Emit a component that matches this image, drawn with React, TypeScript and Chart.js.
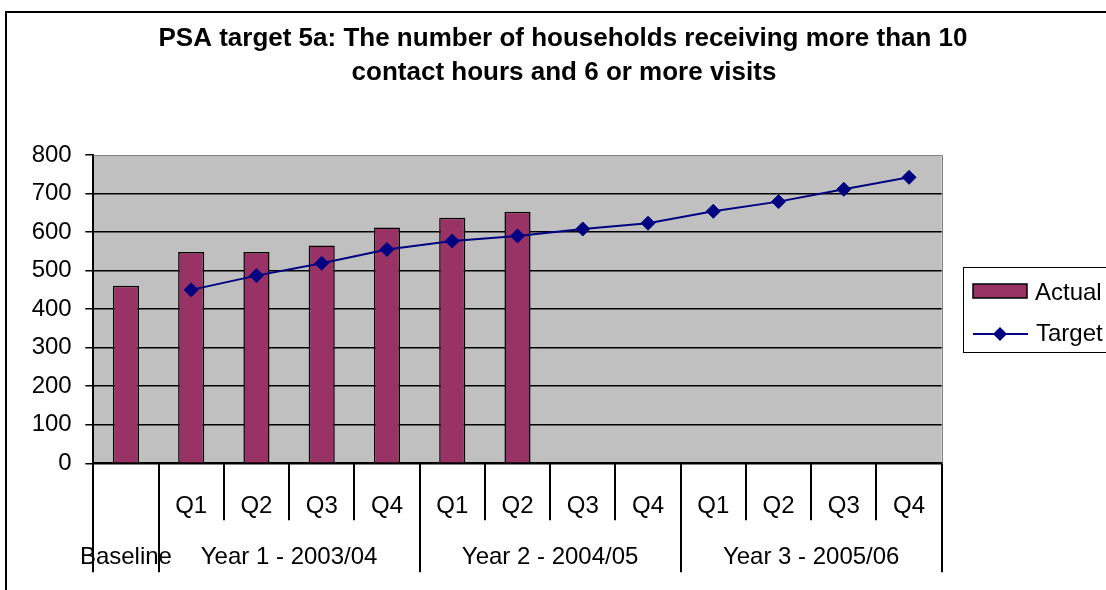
import React, { useEffect, useRef } from "react";
import { Chart, registerables } from "chart.js";

Chart.register(...registerables);

const FONT = '"Liberation Sans", Arial, Helvetica, sans-serif';

const titleLines = [
  "PSA target 5a: The number of households receiving more than 10",
  "contact hours and 6 or more visits",
];
const categories = [
  "Baseline",
  "Y1 Q1", "Y1 Q2", "Y1 Q3", "Y1 Q4",
  "Y2 Q1", "Y2 Q2", "Y2 Q3", "Y2 Q4",
  "Y3 Q1", "Y3 Q2", "Y3 Q3", "Y3 Q4",
];
const quarterLabels = ["", "Q1", "Q2", "Q3", "Q4", "Q1", "Q2", "Q3", "Q4", "Q1", "Q2", "Q3", "Q4"];
const groupLabels = ["Baseline", "Year 1 - 2003/04", "Year 2 - 2004/05", "Year 3 - 2005/06"];
const groupSpans = [1, 4, 4, 4];
const seriesNames = ["Actual", "Target"];
const actualValues = [461, 548, 548, 565, 612, 637, 653, null, null, null, null, null, null];
const targetValues = [null, 450, 487, 519, 555, 577, 590, 608, 623, 654, 679, 711, 742];
const yMin = 0;
const yMax = 800;
const yStep = 100;

const BAR_COLOR = "#993366";
const LINE_COLOR = "#000080";
const PLOT_BG = "#C0C0C0";

const excelPlugin = {
  id: "excelLook",
  beforeDraw(chart: any) {
    const { ctx, chartArea: a } = chart;
    ctx.save();
    ctx.fillStyle = "#ffffff";
    ctx.fillRect(0, 0, chart.width, chart.height);
    ctx.fillStyle = PLOT_BG;
    ctx.fillRect(a.left, a.top, a.right - a.left, a.bottom - a.top);
    // outer chart frame (extends past the picture on the right and bottom)
    ctx.strokeStyle = "#000";
    ctx.lineWidth = 2;
    ctx.beginPath();
    ctx.moveTo(6, chart.height + 10);
    ctx.lineTo(6, 12);
    ctx.lineTo(chart.width + 10, 12);
    ctx.stroke();
    // title
    ctx.fillStyle = "#000";
    ctx.font = `bold 26px ${FONT}`;
    ctx.textAlign = "center";
    ctx.textBaseline = "alphabetic";
    ctx.fillText(titleLines[0], 563, 46);
    ctx.fillText(titleLines[1], 564, 80);
    ctx.restore();
  },
  beforeDatasetsDraw(chart: any) {
    const { ctx, chartArea: a } = chart;
    ctx.save();
    ctx.strokeStyle = "#808080";
    ctx.lineWidth = 1;
    ctx.beginPath();
    ctx.moveTo(a.left, Math.round(a.top) + 0.5);
    ctx.lineTo(Math.round(a.right) + 0.5, Math.round(a.top) + 0.5);
    ctx.lineTo(Math.round(a.right) + 0.5, a.bottom);
    ctx.stroke();
    ctx.restore();
  },
  afterDraw(chart: any) {
    const { ctx, chartArea: a } = chart;
    const xs = chart.scales.x;
    const n = categories.length;
    ctx.save();
    // multi-level category axis separators
    const longIdx = new Set<number>();
    let acc = 0;
    longIdx.add(0);
    groupSpans.forEach((s) => {
      acc += s;
      longIdx.add(acc);
    });
    ctx.strokeStyle = "#000";
    ctx.lineWidth = 2;
    for (let i = 0; i <= n; i++) {
      const x = Math.round(xs.getPixelForValue(i - 0.5));
      const len = longIdx.has(i) ? 109 : 57;
      ctx.beginPath();
      ctx.moveTo(x, a.bottom);
      ctx.lineTo(x, a.bottom + len);
      ctx.stroke();
    }
    ctx.fillStyle = "#000";
    ctx.font = `24px ${FONT}`;
    ctx.textAlign = "center";
    ctx.textBaseline = "alphabetic";
    quarterLabels.forEach((q, i) => {
      if (q) ctx.fillText(q, xs.getPixelForValue(i), 513);
    });
    let start = 0;
    groupLabels.forEach((g, gi) => {
      const span = groupSpans[gi];
      const x0 = xs.getPixelForValue(start - 0.5);
      const x1 = xs.getPixelForValue(start + span - 0.5);
      ctx.fillText(g, (x0 + x1) / 2, 564);
      start += span;
    });

    // legend
    const lx = 963;
    const ly = 267;
    ctx.fillStyle = "#fff";
    ctx.fillRect(lx, ly, 200, 85);
    ctx.strokeStyle = "#000";
    ctx.lineWidth = 1;
    ctx.strokeRect(lx + 0.5, ly + 0.5, 200, 85);
    const ds = chart.data.datasets;
    const barDs = ds.find((d: any) => d.type === "bar");
    const lineDs = ds.find((d: any) => d.type === "line");
    ctx.fillStyle = barDs.backgroundColor;
    ctx.fillRect(973, 284, 54, 14);
    ctx.strokeStyle = "#000";
    ctx.lineWidth = 1.5;
    ctx.strokeRect(973, 284, 54, 14);
    ctx.strokeStyle = lineDs.borderColor;
    ctx.lineWidth = 2;
    ctx.beginPath();
    ctx.moveTo(973, 334);
    ctx.lineTo(1028, 334);
    ctx.stroke();
    ctx.fillStyle = lineDs.pointBackgroundColor;
    ctx.beginPath();
    ctx.moveTo(1000, 327);
    ctx.lineTo(1007, 334);
    ctx.lineTo(1000, 341);
    ctx.lineTo(993, 334);
    ctx.closePath();
    ctx.fill();
    ctx.fillStyle = "#000";
    ctx.font = `24px ${FONT}`;
    ctx.textAlign = "left";
    ctx.fillText(barDs.label, 1035, 300);
    ctx.fillText(lineDs.label, 1036, 341);
    ctx.restore();
  },
};

export default function App() {
  const canvasRef = useRef<HTMLCanvasElement | null>(null);

  useEffect(() => {
    if (!canvasRef.current) return;
    const chart = new Chart(canvasRef.current, {
      type: "bar",
      data: {
        labels: categories,
        datasets: [
          {
            type: "line",
            label: seriesNames[1],
            data: targetValues,
            borderColor: LINE_COLOR,
            backgroundColor: LINE_COLOR,
            borderWidth: 2,
            pointStyle: "rectRot",
            pointRadius: 7,
            pointBackgroundColor: LINE_COLOR,
            pointBorderColor: LINE_COLOR,
            pointBorderWidth: 1,
            tension: 0,
            order: 0,
          } as any,
          {
            type: "bar",
            label: seriesNames[0],
            data: actualValues,
            backgroundColor: BAR_COLOR,
            borderColor: "#000",
            borderWidth: 1.5,
            barPercentage: 0.4,
            categoryPercentage: 1,
            order: 1,
          } as any,
        ],
      },
      options: {
        responsive: false,
        animation: false,
        devicePixelRatio: 1,
        layout: { padding: { top: 155, right: 164.3, bottom: 0, left: 0 } },
        plugins: {
          legend: { display: false },
          title: { display: false },
          tooltip: { enabled: false },
        },
        scales: {
          x: {
            type: "category",
            offset: true,
            grid: { display: false },
            border: { display: true, color: "#000", width: 2 },
            ticks: { display: false },
            afterFit: (s: any) => {
              s.height = 126.7;
            },
          },
          y: {
            min: yMin,
            max: yMax,
            ticks: {
              stepSize: yStep,
              color: "#000",
              font: { size: 24, family: FONT },
              padding: 13.6,
            },
            grid: {
              color: (c: any) => (c.tick && c.tick.value === yMax ? "rgba(0,0,0,0)" : "#000"),
              tickColor: "#000",
              tickLength: 8,
              lineWidth: 1.5,
            },
            border: { display: true, color: "#000", width: 2 },
            afterFit: (s: any) => {
              s.width = 93.3;
            },
          },
        },
      } as any,
      plugins: [excelPlugin],
    });
    return () => chart.destroy();
  }, []);

  return (
    <div style={{ position: "absolute", left: 0, top: 0, width: 1106, height: 590, overflow: "hidden", background: "#fff" }}>
      <canvas ref={canvasRef} width={1106} height={590} style={{ display: "block" }} />
    </div>
  );
}
